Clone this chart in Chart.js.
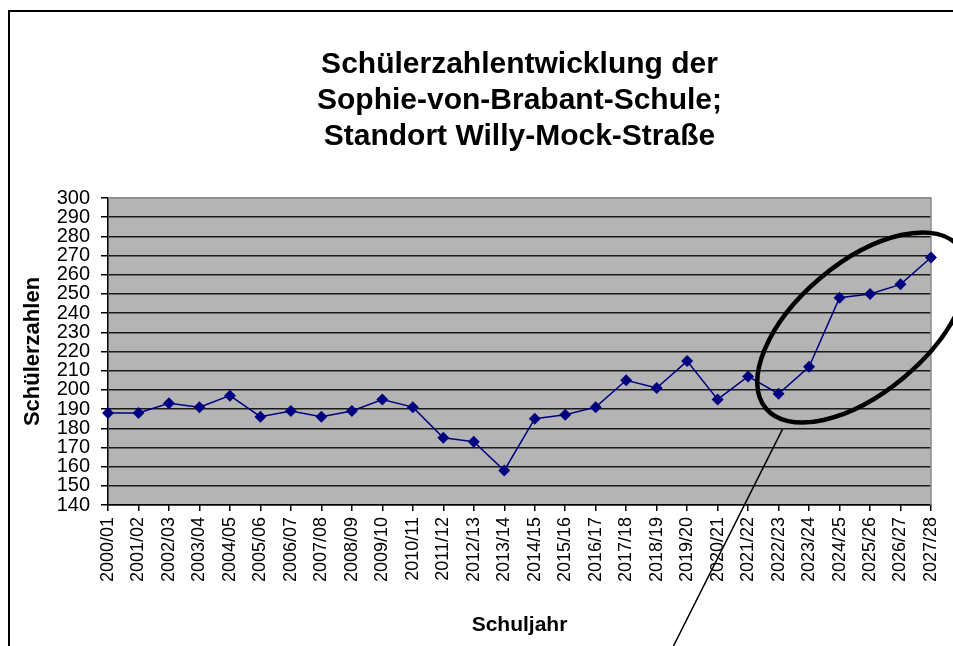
<!DOCTYPE html>
<html>
<head>
<meta charset="utf-8">
<title>Schülerzahlentwicklung</title>
<script src="https://cdn.jsdelivr.net/npm/chart.js@4.4.1/dist/chart.umd.min.js"></script>
<style>
    html, body { margin: 0; padding: 0; background: #fff; }
    #wrap { width: 953px; height: 646px; }
</style>
</head>
<body>
<div id="wrap"><canvas id="chart" width="953" height="646"></canvas></div>
<script>
const schuljahre = [
    '2000/01', '2001/02', '2002/03', '2003/04', '2004/05', '2005/06', '2006/07',
    '2007/08', '2008/09', '2009/10', '2010/11', '2011/12', '2012/13', '2013/14',
    '2014/15', '2015/16', '2016/17', '2017/18', '2018/19', '2019/20', '2020/21',
    '2021/22', '2022/23', '2023/24', '2024/25', '2025/26', '2026/27', '2027/28'
];
const schuelerzahlen = [
    188, 188, 193, 191, 197, 186, 189,
    186, 189, 195, 191, 175, 173, 158,
    185, 187, 191, 205, 201, 215, 195,
    207, 198, 212, 248, 250, 255, 269
];
const titleLines = [
    'Schülerzahlentwicklung der',
    'Sophie-von-Brabant-Schule;',
    'Standort Willy-Mock-Straße'
];
const yMin = 140;
const yMax = 300;
const yStep = 10;

// hand-drawn marking: ellipse round the last years and a pointer line
const marking = {
    centerIndex: 24.75, centerValue: 232.5,
    rx: 126, ry: 65, angle: -40,
    lineFromIndex: 22.13, lineFromValue: 179.5,
    lineToIndex: 18.55
};

const font = 'Arial, "Liberation Sans", sans-serif';
const plotBg = '#b4b4b4';
const gridColor = '#1a1a1a';
const borderGray = '#8c8c8c';
const seriesColor = '#000080';

const decorations = {
    id: 'decorations',
    beforeDraw(chart) {
        const { ctx, chartArea: a } = chart;
        ctx.save();
        ctx.fillStyle = plotBg;
        ctx.fillRect(a.left, a.top, a.right - a.left, a.bottom - a.top);
        // outer frame (cut off at right and bottom)
        ctx.strokeStyle = '#000';
        ctx.lineWidth = 2;
        ctx.beginPath();
        ctx.moveTo(9, chart.height);
        ctx.lineTo(9, 11);
        ctx.lineTo(chart.width, 11);
        ctx.stroke();
        ctx.restore();
    },
    beforeDatasetsDraw(chart) {
        const { ctx, chartArea: a } = chart;
        ctx.save();
        ctx.strokeStyle = borderGray;
        ctx.lineWidth = 1.5;
        ctx.beginPath();
        ctx.moveTo(a.left, a.top);
        ctx.lineTo(a.right, a.top);
        ctx.lineTo(a.right, a.bottom);
        ctx.stroke();
        ctx.restore();
    },
    afterDraw(chart) {
        const { ctx } = chart;
        const x = chart.scales.x;
        const y = chart.scales.y;
        ctx.save();
        ctx.strokeStyle = '#000';
        ctx.lineWidth = 4.5;
        ctx.beginPath();
        ctx.ellipse(
            x.getPixelForValue(marking.centerIndex),
            y.getPixelForValue(marking.centerValue),
            marking.rx, marking.ry, marking.angle * Math.PI / 180, 0, Math.PI * 2
        );
        ctx.stroke();
        ctx.lineWidth = 1.5;
        ctx.beginPath();
        ctx.moveTo(x.getPixelForValue(marking.lineFromIndex), y.getPixelForValue(marking.lineFromValue));
        ctx.lineTo(x.getPixelForValue(marking.lineToIndex), chart.height);
        ctx.stroke();
        ctx.restore();
    }
};

new Chart(document.getElementById('chart'), {
    type: 'line',
    data: {
        labels: schuljahre,
        datasets: [{
            label: 'Schülerzahlen',
            data: schuelerzahlen,
            borderColor: seriesColor,
            backgroundColor: seriesColor,
            borderWidth: 1.5,
            pointStyle: 'rectRot',
            pointRadius: 6,
            pointBorderWidth: 0,
            tension: 0,
            fill: false
        }]
    },
    options: {
        responsive: false,
        animation: false,
        layout: { padding: { left: 0, right: 22, top: 0, bottom: 0 } },
        scales: {
            x: {
                offset: false,
                afterFit(scale) {
                    scale.height = 141;
                    scale.paddingRight = 0;
                },
                grid: {
                    drawOnChartArea: false,
                    drawTicks: true,
                    tickLength: 6,
                    color: '#000',
                    lineWidth: 1.5
                },
                border: { color: '#000', width: 1.5 },
                ticks: {
                    autoSkip: false,
                    minRotation: 90,
                    maxRotation: 90,
                    padding: 6,
                    color: '#000',
                    font: { family: font, size: 18 }
                },
                title: {
                    display: true,
                    text: 'Schuljahr',
                    color: '#000',
                    font: { family: font, size: 21, weight: 'bold' },
                    padding: { top: 8, bottom: 8 }
                }
            },
            y: {
                min: yMin,
                max: yMax,
                afterFit(scale) { scale.width = 108; },
                grid: {
                    color: (c) => c.tick && c.tick.value === yMax ? borderGray : gridColor,
                    lineWidth: 1.5,
                    tickLength: 7,
                    tickColor: '#000'
                },
                border: { color: '#000', width: 1.5 },
                ticks: {
                    stepSize: yStep,
                    autoSkip: false,
                    padding: 11,
                    color: '#000',
                    font: { family: font, size: 20 }
                },
                title: {
                    display: true,
                    text: 'Schülerzahlen',
                    color: '#000',
                    font: { family: font, size: 22, weight: 'bold' },
                    padding: { top: 20, bottom: 0 }
                }
            }
        },
        plugins: {
            legend: { display: false },
            tooltip: { enabled: false },
            title: {
                display: true,
                fullSize: false,
                text: titleLines,
                color: '#000',
                font: { family: font, size: 30, weight: 'bold', lineHeight: 1.2 },
                padding: { top: 47, bottom: 43 }
            }
        }
    },
    plugins: [decorations]
});
</script>
</body>
</html>
